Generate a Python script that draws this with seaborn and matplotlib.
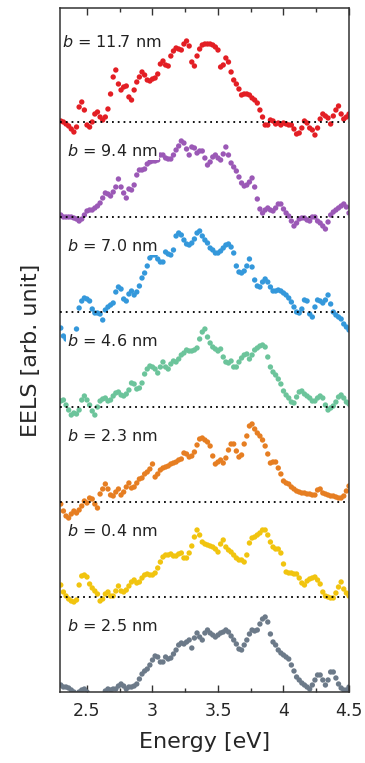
import numpy as np
import pandas as pd
import matplotlib
matplotlib.use("Agg")
import matplotlib.pyplot as plt
from matplotlib.ticker import MultipleLocator
import seaborn as sns

# ---------------- data ----------------
energy = np.round(np.arange(2.30, 4.5001, 0.02), 2)

b_values = ["11.7", "9.4", "7.0", "4.6", "2.3", "0.4", "2.5"]

red = [1, 0, -2, -4, -7, -10, -5, 15, 20, 12, -3, -5, 0, 8, 10, 5, 2, 5, 13, 28,
       45, 52, 38, 32, 35, 36, 25, 22, 32, 40, 45, 50, 47, 42, 41, 43, 44, 48, 58, 61,
       57, 56, 66, 71, 74, 73, 72, 78, 81, 76, 60, 56, 66, 73, 77, 78, 78, 78, 77, 75,
       72, 55, 57, 64, 60, 50, 42, 38, 33, 27, 28, 28, 27, 24, 22, 19, 12, 5, -3, -3,
       2, 1, -2, -1, -3, -1, -2, -3, -3, -7, -12, -11, -6, 1, -1, -6, -8, -13, -6, 3,
       8, 6, 4, -2, 6, 12, 16, 8, 3, 5, 8]
purple = [2, 0, 0, 0, 0, -1, -2, -4, -2, 2, 6, 7, 7, 9, 11, 14, 19, 24, 23, 21,
          25, 30, 38, 30, 24, 19, 28, 27, 32, 42, 47, 47, 48, 53, 55, 56, 56, 57, 62, 62,
          59, 58, 58, 62, 67, 71, 76, 74, 68, 62, 70, 69, 64, 66, 66, 59, 52, 55, 60, 62,
          59, 57, 63, 70, 62, 54, 50, 46, 40, 34, 31, 32, 35, 39, 30, 18, 8, 4, 7, 9,
          7, 6, 9, 13, 13, 8, 4, 1, -4, -9, -6, -2, -1, -1, -3, -4, 0, 0, -4, -6,
          -9, -12, -5, 2, 5, 7, 9, 11, 13, 10, 4]
blue = [-16, -24, -27, -29, -28, -24, -17, 4, 11, 14, 13, 11, 3, -1, -1, -2, -8, 2, 5, 7,
        9, 20, 25, 23, 13, 11, 18, 21, 17, 20, 26, 34, 39, 46, 54, 57, 57, 53, 50, 50,
        60, 58, 57, 62, 76, 79, 77, 72, 68, 67, 69, 73, 79, 81, 76, 72, 69, 64, 62, 59,
        59, 61, 64, 67, 68, 65, 59, 46, 40, 39, 41, 46, 53, 45, 32, 26, 25, 30, 33, 30,
        25, 21, 21, 22, 21, 19, 17, 14, 10, 5, 0, -1, 3, 12, 11, -2, -5, 5, 12, 11,
        9, 12, 17, 8, 0, -3, -5, -7, -12, -15, -18]
green = [6, 7, 2, -3, -8, -6, -7, -3, 7, 11, 7, 2, -4, -8, 0, 6, 8, 9, 6, 7,
         11, 14, 15, 12, 11, 13, 17, 24, 23, 18, 19, 24, 33, 38, 41, 40, 38, 34, 40, 45,
         40, 38, 43, 46, 45, 48, 52, 54, 57, 56, 56, 57, 59, 68, 75, 78, 70, 64, 60, 58,
         56, 58, 50, 45, 44, 46, 40, 40, 45, 49, 52, 53, 48, 52, 57, 59, 61, 62, 60, 50,
         40, 35, 32, 28, 23, 16, 12, 9, 5, 4, 10, 15, 16, 13, 11, 9, 6, 6, 9, 11,
         9, 2, -3, -1, 1, 5, 10, 12, 9, 5, 3]
orange = [-2, -9, -14, -16, -12, -9, -11, -8, -4, 1, -1, 4, 3, -2, -6, 8, 13, 18, 13, 7,
          6, 10, 13, 7, 10, 15, 19, 14, 15, 19, 23, 24, 28, 30, 33, 38, 25, 28, 32, 34,
          35, 36, 38, 39, 40, 42, 43, 49, 48, 45, 46, 50, 57, 63, 64, 62, 60, 56, 46, 38,
          40, 42, 39, 44, 52, 58, 58, 51, 45, 47, 58, 66, 76, 78, 73, 69, 66, 62, 56, 48,
          39, 40, 40, 34, 28, 21, 19, 18, 15, 13, 11, 10, 9, 9, 8, 8, 7, 7, 12, 13,
          9, 8, 7, 6, 6, 5, 4, 4, 6, 11, 16]
yellow = [12, 5, 1, -2, -4, -5, -3, 12, 21, 22, 20, 13, 9, 6, 3, -4, -2, 3, 5, 1,
          1, 6, 11, 6, 5, 7, 11, 15, 17, 14, 15, 19, 22, 23, 22, 22, 24, 29, 35, 40,
          42, 42, 43, 41, 41, 43, 44, 39, 39, 44, 51, 60, 67, 62, 55, 53, 52, 51, 50, 48,
          45, 53, 57, 50, 47, 45, 42, 39, 37, 37, 35, 42, 54, 59, 60, 62, 64, 67, 67, 62,
          55, 50, 48, 48, 44, 33, 25, 24, 24, 23, 23, 19, 14, 12, 16, 18, 19, 20, 17, 13,
          5, 1, 0, -1, -1, 4, 10, 15, 8, 4, 1]
gray = [7, 5, 5, 4, 2, 0, -2, 0, 2, 3, 0, -5, -8, -10, -9, -7, -5, 1, 3, 2,
        3, 3, 6, 8, 6, 3, 5, 5, 6, 8, 13, 18, 21, 23, 27, 32, 36, 35, 30, 30,
        35, 33, 34, 38, 42, 47, 49, 48, 50, 52, 44, 54, 59, 55, 52, 59, 62, 59, 57, 55,
        57, 59, 60, 62, 60, 56, 52, 48, 43, 42, 47, 52, 58, 62, 61, 62, 68, 73, 75, 70,
        58, 50, 47, 42, 39, 37, 35, 33, 27, 21, 15, 12, 9, 7, 5, 3, 7, 12, 17, 17,
        12, 7, 12, 20, 20, 14, 8, 4, 2, 2, 5]

series = [red, purple, blue, green, orange, yellow, gray]
colors = ["#e31e24", "#9b59b6", "#3498db", "#6cc49b", "#e67e22", "#f1c40f", "#6c7a89"]

# ---------------- figure ----------------
sns.set_style("ticks")
plt.rcParams["font.family"] = ["DejaVu Sans"]
plt.rcParams["mathtext.fontset"] = "dejavusans"

fig = plt.figure(figsize=(3.65, 7.63), dpi=100)
ax = fig.add_axes([60 / 365, 71 / 763, 289 / 365, 684 / 763])

step = 95.0
n = len(series)
rows = []
for i, (lab, vals) in enumerate(zip(b_values, series)):
    off = (n - 1 - i) * step
    for e, v in zip(energy, vals):
        rows.append({"Energy": e, "EELS": v + off, "b": lab})
df = pd.DataFrame(rows)

sns.scatterplot(data=df, x="Energy", y="EELS", hue="b", palette=colors,
                s=15, edgecolor="none", linewidth=0, legend=False, ax=ax,
                zorder=2, clip_on=True)

for i, lab in enumerate(b_values):
    off = (n - 1 - i) * step
    if i < n - 1:
        ax.axhline(off, color="black", linestyle=(0, (1, 2.2)), linewidth=1.3,
                   zorder=3)
    if i == 0:
        tx, ty = 2.31, off + 80
    else:
        tx, ty = 2.347, off + 66
    ax.text(tx, ty, r"$b$ = " + lab + " nm", fontsize=11.5, color="#222222",
            va="center", ha="left", zorder=4,
            bbox=dict(facecolor="white", edgecolor="none", pad=1.0))

ax.set_xlim(2.294, 4.5)
ax.set_ylim(0, 684)
ax.xaxis.set_minor_locator(MultipleLocator(0.25))
ax.set_xticks([2.5, 3.0, 3.5, 4.0, 4.5])
ax.set_xticklabels(["2.5", "3", "3.5", "4", "4.5"])
ax.set_yticks([])
ax.tick_params(axis="x", which="both", direction="in", top=True, bottom=True,
               labelsize=12.5, color="#333333", width=1)
ax.tick_params(axis="x", which="major", length=5, pad=7)
ax.tick_params(axis="x", which="minor", length=3)
for sp in ax.spines.values():
    sp.set_color("#333333")
    sp.set_linewidth(1.1)
    sp.set_visible(True)

ax.set_xlabel("Energy [eV]", fontsize=16, labelpad=9)
ax.set_ylabel("EELS [arb. unit]", fontsize=16, labelpad=14)

fig.savefig("out.png", dpi=100)
